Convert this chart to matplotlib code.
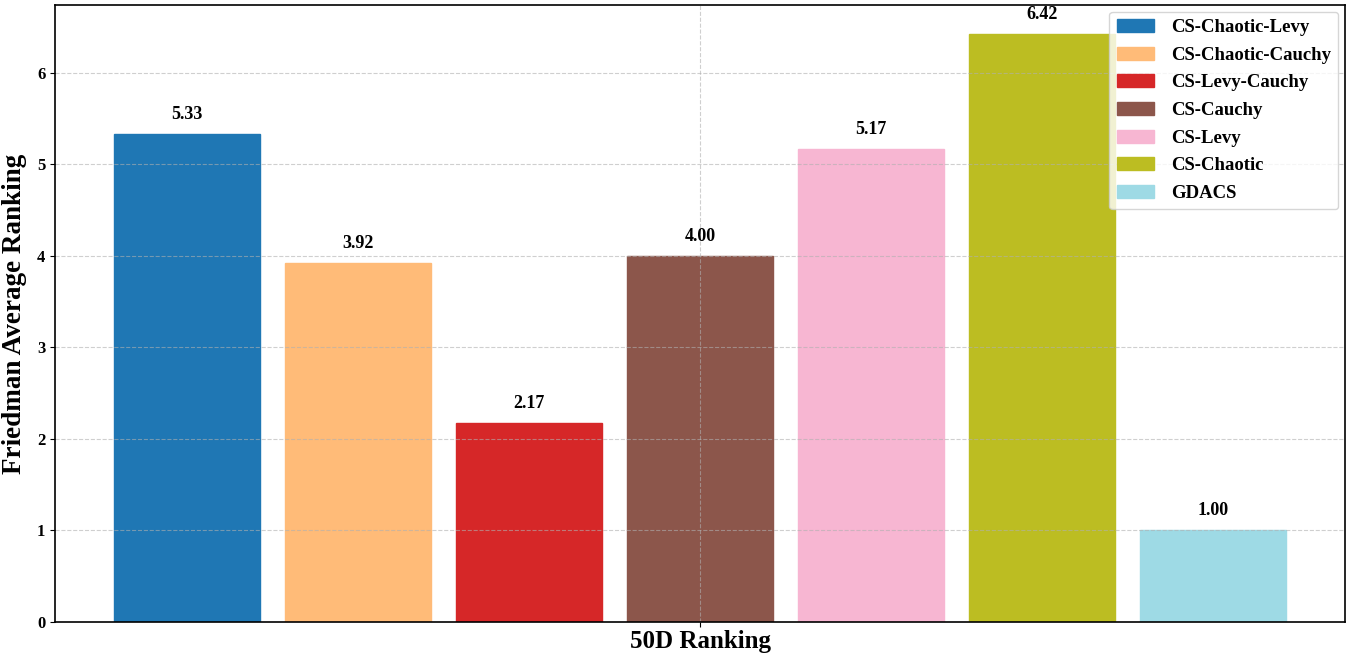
import matplotlib
matplotlib.use("Agg")
import matplotlib.pyplot as plt
import numpy as np

plt.rcParams['font.family'] = ['Liberation Serif', 'DejaVu Serif']

methods = ["CS-Chaotic-Levy", "CS-Chaotic-Cauchy", "CS-Levy-Cauchy", "CS-Cauchy",
           "CS-Levy", "CS-Chaotic", "GDACS"]
values = [5.33, 3.92, 2.17, 4.00, 5.17, 6.42, 1.00]
colors = ["#1f77b4", "#ffbb78", "#d62728", "#8c564b", "#f7b6d2", "#bcbd22", "#9edae5"]
group_label = ["50D Ranking"]

fig = plt.figure(figsize=(13.55, 6.59), dpi=100)
ax = fig.add_axes([55/1355, 37/659, 1290/1355, 617/659])

step = 0.14
width = 0.12
n = len(methods)
for i, (m, v, c) in enumerate(zip(methods, values, colors)):
    x = (i - (n - 1) / 2) * step
    ax.bar(x, v, width=width, color=c, edgecolor=c, linewidth=1, label=m)
    ax.text(x, v + 0.12, f"{v:.2f}", ha='center', va='bottom', fontsize=13, fontweight='bold')

ax.set_ylim(0, max(values) * 1.05)
ax.set_xticks([0])
ax.set_xticklabels(group_label, fontsize=18, fontweight='bold')
ax.tick_params(axis='x', pad=2)
ax.set_ylabel("Friedman Average Ranking", fontsize=19.5, fontweight='bold', labelpad=7)
for lab in ax.get_yticklabels():
    lab.set_fontsize(12)
    lab.set_fontweight('bold')
ax.grid(True, linestyle='--', alpha=0.6)
for s in ax.spines.values():
    s.set_linewidth(1.2)
leg = ax.legend(loc='upper right', prop={'size': 13.5, 'weight': 'bold'}, handlelength=2.0,
                handletextpad=0.9, labelspacing=0.56, borderaxespad=0.35)
fig.savefig("out.png", dpi=100)
